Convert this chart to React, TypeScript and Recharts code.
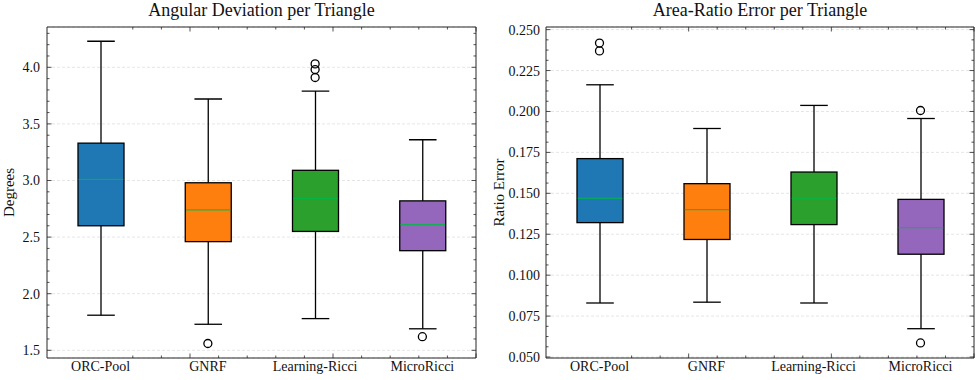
// Two box-plot panels: angular deviation and area-ratio error per triangle.
// Boxes are drawn as range bars [whisker low, whisker high] with a custom
// shape; quartiles/median are placed inside the bar rect, outliers are dots.

import { Bar, CartesianGrid, Cell, ComposedChart, Line, XAxis, YAxis } from 'recharts';

const categories = ['ORC-Pool', 'GNRF', 'Learning-Ricci', 'MicroRicci'];

// Angular deviation (degrees)
const angLow = [1.81, 1.73, 1.78, 1.69];
const angQ1 = [2.6, 2.46, 2.55, 2.38];
const angMed = [3.01, 2.74, 2.84, 2.61];
const angQ3 = [3.33, 2.98, 3.09, 2.82];
const angHigh = [4.23, 3.72, 3.79, 3.36];
const angOutliers = [[], [1.56], [4.03, 3.98, 3.91], [1.62]];
const angTicks = [1.5, 2.0, 2.5, 3.0, 3.5, 4.0];
const angMinor = [
  1.6, 1.7, 1.8, 1.9, 2.1, 2.2, 2.3, 2.4, 2.6, 2.7, 2.8, 2.9,
  3.1, 3.2, 3.3, 3.4, 3.6, 3.7, 3.8, 3.9, 4.1, 4.2, 4.3,
];

// Area-ratio error
const areaLow = [0.083, 0.0835, 0.083, 0.0673];
const areaQ1 = [0.1321, 0.1218, 0.1309, 0.1128];
const areaMed = [0.147, 0.14, 0.147, 0.129];
const areaQ3 = [0.1712, 0.1559, 0.163, 0.1463];
const areaHigh = [0.2163, 0.1896, 0.2037, 0.1957];
const areaOutliers = [[0.2418, 0.237], [], [], [0.2006, 0.0586]];
const areaTicks = [0.05, 0.075, 0.1, 0.125, 0.15, 0.175, 0.2, 0.225, 0.25];
const areaMinor = [
  0.05625, 0.0625, 0.06875, 0.08125, 0.0875, 0.09375, 0.10625, 0.1125,
  0.11875, 0.13125, 0.1375, 0.14375, 0.15625, 0.1625, 0.16875, 0.18125,
  0.1875, 0.19375, 0.20625, 0.2125, 0.21875, 0.23125, 0.2375, 0.24375,
];

// category positions 1..4 on the frame axes
const xMajor = [1, 2, 3, 4];
const xMinor = [
  0.6, 0.8, 1.2, 1.4, 1.6, 1.8, 2.2, 2.4, 2.6, 2.8, 3.2, 3.4, 3.6, 3.8, 4.2, 4.4,
];

const boxColors = ['#1f77b4', '#ff7f0e', '#2ca02c', '#9467bd'];
const MEDIAN = '#00B945';
const FRAME = '#262626';
const FONT = '"Liberation Serif", "Times New Roman", serif';

function buildRows(
  low: number[], q1: number[], med: number[], q3: number[], high: number[], out: number[][],
) {
  return categories.map((name, i) => ({
    name,
    lo: low[i],
    q1: q1[i],
    med: med[i],
    q3: q3[i],
    hi: high[i],
    o1: out[i][0],
    o2: out[i][1],
    o3: out[i][2],
  }));
}

function BoxShape(p: any) {
  const { x, y, width, height, fill, payload } = p;
  const { lo, q1, med, q3, hi } = payload;
  const py = (v: number) => y + ((hi - v) / (hi - lo)) * height;
  const cx = x + width / 2;
  const cap = width * 0.3;
  return (
    <g>
      <line x1={cx} x2={cx} y1={y} y2={y + height} stroke="#000" strokeWidth={1.3} />
      <line x1={cx - cap} x2={cx + cap} y1={y} y2={y} stroke="#000" strokeWidth={1.3} />
      <line x1={cx - cap} x2={cx + cap} y1={y + height} y2={y + height} stroke="#000" strokeWidth={1.3} />
      <rect x={x} y={py(q3)} width={width} height={py(q1) - py(q3)} fill={fill} stroke="#000" strokeWidth={1.3} />
      <line x1={x + 0.7} x2={x + width - 0.7} y1={py(med)} y2={py(med)} stroke={MEDIAN} strokeWidth={1} />
    </g>
  );
}

type Side = 'left' | 'right' | 'top' | 'bottom';

// inward ticks, matplotlib "science" style
function inwardTick(side: Side, majors: number[]) {
  return (p: any) => {
    const v = Number(p.payload.value);
    const len = majors.some((m) => Math.abs(m - v) < 1e-9) ? 4.5 : 2.5;
    const dx = side === 'left' ? len : side === 'right' ? -len : 0;
    const dy = side === 'top' ? len : side === 'bottom' ? -len : 0;
    return <line x1={p.x} y1={p.y} x2={p.x + dx} y2={p.y + dy} stroke={FRAME} strokeWidth={0.8} />;
  };
}

interface PanelProps {
  title: string;
  yLabel: string;
  rows: ReturnType<typeof buildRows>;
  domain: [number, number];
  ticks: number[];
  minor: number[];
  digits: number;
  left: number;
  axisWidth: number;
  rightMargin: number;
  labelX: number;
  tickGap: number;
}

function BoxPanel(props: PanelProps) {
  const { title, yLabel, rows, domain, ticks, minor, digits, left, axisWidth, rightMargin, labelX, tickGap } = props;
  const W = 490;
  const H = 380;
  const yAll = [...ticks, ...minor];
  const xAll = [...xMajor, ...xMinor];
  const frameAxis = { stroke: FRAME, strokeWidth: 1 };
  return (
    <div style={{ position: 'absolute', left, top: 0, width: W, height: H, fontFamily: FONT }}>
      <div
        style={{
          position: 'absolute',
          left: axisWidth,
          width: W - axisWidth - rightMargin,
          top: 0,
          lineHeight: '20px',
          textAlign: 'center',
          fontSize: 18,
          color: '#111',
        }}
      >
        {title}
      </div>
      <ComposedChart width={W} height={H} data={rows} margin={{ top: 27, right: rightMargin, bottom: 0, left: 0 }}>
        <CartesianGrid vertical={false} stroke="#d4d4d4" strokeDasharray="3 2" strokeWidth={0.6} />
        <XAxis
          dataKey="name"
          height={22}
          tickLine={false}
          axisLine={false}
          tickSize={0}
          tickMargin={3.5}
          interval={0}
          tick={{ fill: '#111', fontSize: 14, fontFamily: FONT }}
        />
        <YAxis
          type="number"
          domain={domain}
          allowDataOverflow
          ticks={ticks}
          interval={0}
          width={axisWidth}
          tickLine={false}
          axisLine={false}
          tickSize={0}
          tickMargin={tickGap}
          tickFormatter={(v) => Number(v).toFixed(digits)}
          tick={{ fill: '#111', fontSize: 14, fontFamily: FONT }}
          label={{
            value: yLabel,
            angle: -90,
            position: 'insideLeft',
            offset: labelX,
            style: { textAnchor: 'middle', fontSize: 15, fill: '#111', fontFamily: FONT },
          }}
        />
        {/* frame axes with inward major/minor ticks */}
        <XAxis xAxisId="top" orientation="top" mirror type="number" domain={[0.5, 4.5]} allowDataOverflow
          ticks={xAll} interval={0} height={1} tickLine={false} tickSize={0} tickMargin={0}
          axisLine={frameAxis} tick={inwardTick('top', xMajor)} />
        <XAxis xAxisId="bottom" orientation="bottom" mirror type="number" domain={[0.5, 4.5]} allowDataOverflow
          ticks={xAll} interval={0} height={1} tickLine={false} tickSize={0} tickMargin={0}
          axisLine={frameAxis} tick={inwardTick('bottom', xMajor)} />
        <YAxis yAxisId="left" orientation="left" mirror type="number" domain={domain} allowDataOverflow
          ticks={yAll} interval={0} width={1} tickLine={false} tickSize={0} tickMargin={0}
          axisLine={frameAxis} tick={inwardTick('left', ticks)} />
        <YAxis yAxisId="right" orientation="right" mirror type="number" domain={domain} allowDataOverflow
          ticks={yAll} interval={0} width={1} tickLine={false} tickSize={0} tickMargin={0}
          axisLine={frameAxis} tick={inwardTick('right', ticks)} />
        <Bar dataKey={(d: any) => [d.lo, d.hi]} barSize={46} shape={BoxShape} isAnimationActive={false}>
          {rows.map((r, i) => (
            <Cell key={r.name} fill={boxColors[i]} />
          ))}
        </Bar>
        {['o1', 'o2', 'o3'].map((k) => (
          <Line
            key={k}
            dataKey={k}
            stroke="none"
            dot={{ r: 4, fill: 'none', stroke: '#000', strokeWidth: 1.3 }}
            activeDot={false}
            legendType="none"
            isAnimationActive={false}
          />
        ))}
      </ComposedChart>
    </div>
  );
}

export default function App() {
  const angRows = buildRows(angLow, angQ1, angMed, angQ3, angHigh, angOutliers);
  const areaRows = buildRows(areaLow, areaQ1, areaMed, areaQ3, areaHigh, areaOutliers);
  return (
    <div style={{ position: 'absolute', left: 0, top: 0, width: 980, height: 380, background: '#fff' }}>
      <BoxPanel
        title="Angular Deviation per Triangle"
        yLabel="Degrees"
        rows={angRows}
        domain={[1.432, 4.356]}
        ticks={angTicks}
        minor={angMinor}
        digits={1}
        left={0}
        axisWidth={47}
        rightMargin={14}
        labelX={9}
        tickGap={7}
      />
      <BoxPanel
        title="Area-Ratio Error per Triangle"
        yLabel="Ratio Error"
        rows={areaRows}
        domain={[0.0494, 0.2516]}
        ticks={areaTicks}
        minor={areaMinor}
        digits={3}
        left={490}
        axisWidth={56}
        rightMargin={6}
        labelX={8.5}
        tickGap={6}
      />
    </div>
  );
}
